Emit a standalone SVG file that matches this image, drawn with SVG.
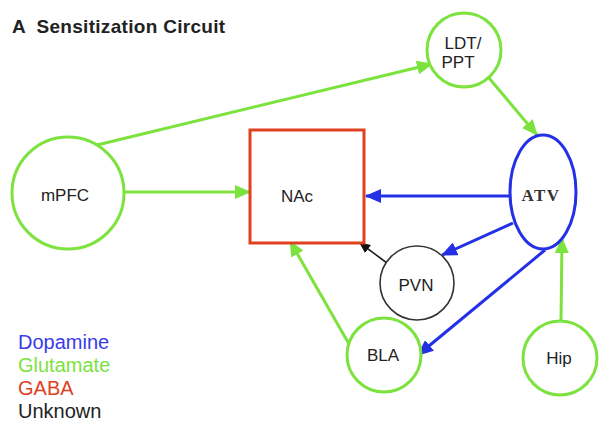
<svg xmlns="http://www.w3.org/2000/svg" width="599" height="421" viewBox="0 0 599 421">
<style>
  .lbl { font-family: "Liberation Sans", Arial, sans-serif; font-size: 17px; fill: #222; text-anchor: middle; }
  .g { fill: #fff; stroke: #7ce23e; stroke-width: 3; }
  .b { fill: #fff; stroke: #2430e6; stroke-width: 3; }
  .k { fill: #fff; stroke: #333; stroke-width: 1.6; }
  .cg { stroke: #7ce23e; stroke-width: 3; fill: none; }
  .cb { stroke: #2430e6; stroke-width: 3; fill: none; }
  .ck { stroke: #222; stroke-width: 1.6; fill: none; }
  .leg { font-family: "Liberation Sans", Arial, sans-serif; font-size: 20px; }
</style>
<defs>
  <marker id="ag" markerUnits="userSpaceOnUse" markerWidth="18" markerHeight="14" refX="15" refY="7" orient="auto">
    <path d="M0,0 L16,7 L0,14 z" fill="#7ce23e"/>
  </marker>
  <marker id="ab" markerUnits="userSpaceOnUse" markerWidth="18" markerHeight="14" refX="15" refY="7" orient="auto">
    <path d="M0,0 L16,7 L0,14 z" fill="#2430e6"/>
  </marker>
  <marker id="ak" markerUnits="userSpaceOnUse" markerWidth="12" markerHeight="10" refX="10" refY="5" orient="auto">
    <path d="M0,0 L11,5 L0,10 z" fill="#111"/>
  </marker>
</defs>
<rect width="599" height="421" fill="#fff"/>
<text x="12" y="33" font-family="Liberation Sans, Arial, sans-serif" font-size="19" font-weight="bold" letter-spacing="0.3" fill="#222" xml:space="preserve">A  Sensitization Circuit</text>

<g id="connectors">
  <line class="cg" x1="97" y1="145" x2="432" y2="64" marker-end="url(#ag)"/>
  <line class="cg" x1="489" y1="78" x2="537" y2="135" marker-end="url(#ag)"/>
  <line class="cg" x1="124" y1="192" x2="250" y2="192" marker-end="url(#ag)"/>
  <line class="cb" x1="510" y1="196" x2="366" y2="196" marker-end="url(#ab)"/>
  <line class="cb" x1="513" y1="223" x2="442" y2="255" marker-end="url(#ab)"/>
  <line class="cb" x1="545" y1="250" x2="418" y2="355" marker-end="url(#ab)"/>
  <line class="ck" x1="387" y1="263" x2="360" y2="243" marker-end="url(#ak)"/>
  <line class="cg" x1="349" y1="344" x2="290" y2="241" marker-end="url(#ag)"/>
  <line class="cg" x1="561" y1="322" x2="562" y2="238" marker-end="url(#ag)"/>
</g>

<g id="LDT_PPT">
  <circle class="g" cx="464" cy="50" r="37"/>
  <text class="lbl" x="463" y="49">LDT/</text>
  <text class="lbl" x="458" y="68">PPT</text>
</g>
<g id="mPFC">
  <circle class="g" cx="68" cy="193" r="56"/>
  <text class="lbl" x="65" y="201">mPFC</text>
</g>
<g id="NAc">
  <rect x="250" y="130" width="114" height="113" fill="#fff" stroke="#e0401e" stroke-width="3"/>
  <text class="lbl" x="297" y="202">NAc</text>
</g>
<g id="ATV">
  <ellipse class="b" cx="543" cy="192" rx="33" ry="57"/>
  <text x="541" y="201" font-family="Liberation Serif, Times New Roman, serif" font-size="17" font-weight="bold" letter-spacing="1.5" fill="#333" text-anchor="middle">ATV</text>
</g>
<g id="PVN">
  <circle class="k" cx="417" cy="283" r="37"/>
  <text class="lbl" x="416" y="291">PVN</text>
</g>
<g id="BLA">
  <circle class="g" cx="384" cy="355" r="37"/>
  <text class="lbl" x="383" y="361">BLA</text>
</g>
<g id="Hip">
  <circle class="g" cx="560" cy="358" r="37"/>
  <text class="lbl" x="559" y="364">Hip</text>
</g>

<g id="legend">
  <text class="leg" x="18" y="349" fill="#3a3ae6">Dopamine</text>
  <text class="leg" x="18" y="372" fill="#7ce23e">Glutamate</text>
  <text class="leg" x="18" y="395" fill="#e0401e">GABA</text>
  <text class="leg" x="18" y="418" fill="#222">Unknown</text>
</g>
</svg>
